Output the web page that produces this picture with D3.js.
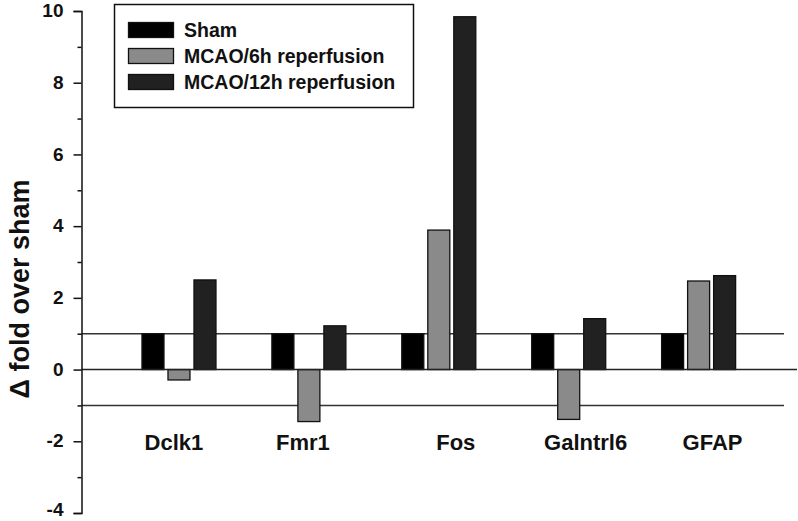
<!DOCTYPE html>
<html>
<head>
<meta charset="utf-8">
<script src="https://cdn.jsdelivr.net/npm/d3@7/dist/d3.min.js"></script>
<style>
  html, body { margin: 0; padding: 0; background: #fff; }
  svg { display: block; font-family: "Liberation Sans", Arial, sans-serif; }
</style>
</head>
<body>
<svg id="chart" width="798" height="521"></svg>
<script>
// ---- data ----
const categories = ["Dclk1", "Fmr1", "Fos", "Galntrl6", "GFAP"];
const seriesNames = ["Sham", "MCAO/6h reperfusion", "MCAO/12h reperfusion"];
const shamValues = [1, 1, 1, 1, 1];
const mcao6hValues = [-0.29, -1.45, 3.89, -1.39, 2.47];
const mcao12hValues = [2.50, 1.22, 9.84, 1.42, 2.62];
const yTickValues = [-4, -2, 0, 2, 4, 6, 8, 10];
const yTickLabels = ["-4", "-2", "0", "2", "4", "6", "8", "10"];
const yMinorTickValues = [-3, -1, 1, 3, 5, 7, 9];
const referenceLines = [1, -1];

// ---- styling / layout constants ----
const seriesColors = ["#000000", "#8a8a8a", "#212121"];
const labelNudge = [-5, -6, 17, 17, 14];

const svg = d3.select("#chart");
const axisX = 81.5;
const plotRight = 796;

const y = d3.scaleLinear().domain([-4, 10]).range([513, 11]);
const x0 = d3.scaleBand().domain(categories).range([axisX, plotRight])
  .paddingInner(0).paddingOuter(0.25);
const x1 = d3.scaleBand().domain(seriesNames).range([28, 102])
  .paddingInner(0.154).paddingOuter(0);

const allSeries = [shamValues, mcao6hValues, mcao12hValues];
const rows = [];
categories.forEach((c, i) => {
  seriesNames.forEach((s, j) => {
    rows.push({ cat: c, series: s, value: allSeries[j][i], color: seriesColors[j] });
  });
});

// reference lines at ±1
svg.append("g").selectAll("line").data(referenceLines).join("line")
  .attr("x1", axisX).attr("x2", 784)
  .attr("y1", d => y(d)).attr("y2", d => y(d))
  .attr("stroke", "#333").attr("stroke-width", 1.4);

// bars
svg.append("g").selectAll("rect").data(rows).join("rect")
  .attr("x", d => x0(d.cat) + x1(d.series))
  .attr("width", x1.bandwidth())
  .attr("y", d => y(Math.max(0, d.value)))
  .attr("height", d => Math.abs(y(d.value) - y(0)))
  .attr("fill", d => d.color)
  .attr("stroke", "#111").attr("stroke-width", 1.3);

// zero line
svg.append("line")
  .attr("x1", axisX).attr("x2", 797)
  .attr("y1", y(0)).attr("y2", y(0))
  .attr("stroke", "#222").attr("stroke-width", 1.5);

// y axis
const yAxis = d3.axisLeft(y).tickValues(yTickValues).tickSize(8).tickPadding(10)
  .tickFormat((d, i) => yTickLabels[i]);
const gy = svg.append("g").attr("transform", `translate(${axisX},0)`).call(yAxis);
gy.select(".domain").attr("stroke", "#111").attr("stroke-width", 1.5);
gy.selectAll(".tick line").attr("stroke", "#111").attr("stroke-width", 1.5);
gy.selectAll(".tick text")
  .attr("font-size", 19).attr("font-weight", "bold").attr("fill", "#111")
  .attr("dy", d => d === -4 ? "0.14em" : "0.3em")
  .attr("font-family", "Liberation Sans, Arial, sans-serif");

const yMinor = d3.axisLeft(y).tickValues(yMinorTickValues).tickSize(4).tickFormat("");
const gm = svg.append("g").attr("transform", `translate(${axisX},0)`).call(yMinor);
gm.select(".domain").remove();
gm.selectAll(".tick line").attr("stroke", "#111").attr("stroke-width", 1.5);

// y axis title
svg.append("text")
  .attr("transform", `translate(29,${(y(-4) + y(10)) / 2 + 27}) rotate(-90)`)
  .attr("text-anchor", "middle")
  .attr("font-size", 27).attr("font-weight", "bold").attr("fill", "#111")
  .text("Δ fold over sham");

// category labels
svg.append("g").selectAll("text").data(categories).join("text")
  .attr("x", (d, i) => x0(d) + x0.bandwidth() / 2 + labelNudge[i])
  .attr("y", 450)
  .attr("text-anchor", "middle")
  .attr("font-size", 22).attr("font-weight", "bold").attr("fill", "#111")
  .text(d => d);

// legend
const legend = svg.append("g");
legend.append("rect")
  .attr("x", 114.5).attr("y", 4.5).attr("width", 299).attr("height", 103)
  .attr("fill", "#fff").attr("stroke", "#111").attr("stroke-width", 1.5);
const li = legend.selectAll("g.item").data(seriesNames).join("g")
  .attr("class", "item")
  .attr("transform", (d, i) => `translate(0,${22.5 + i * 26})`);
li.append("rect")
  .attr("x", 128.5).attr("y", 0).attr("width", 45).attr("height", 15)
  .attr("fill", (d, i) => seriesColors[i])
  .attr("stroke", "#111").attr("stroke-width", 1.3);
li.append("text")
  .attr("x", 184).attr("y", 14.5)
  .attr("font-size", 19.5).attr("font-weight", "bold").attr("fill", "#111")
  .text(d => d);
</script>
</body>
</html>
